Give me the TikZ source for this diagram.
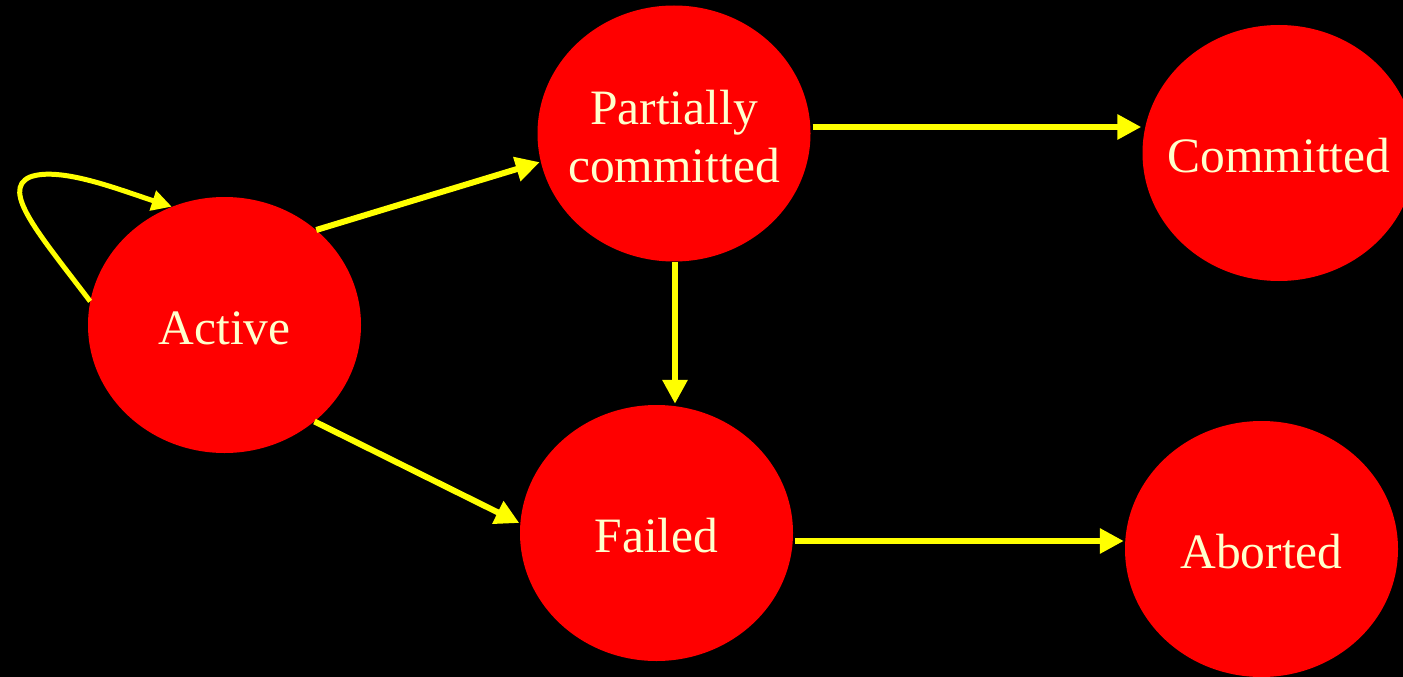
\documentclass[tikz,border=0pt]{standalone}
\usepackage{fontspec}
\setmainfont{Liberation Serif}
\usetikzlibrary{shapes.geometric,arrows.meta}
\definecolor{statered}{HTML}{FF0000}
\definecolor{cream}{HTML}{FFFFCC}
\definecolor{arrowyellow}{HTML}{FFFF00}
\begin{document}
\begin{tikzpicture}[x=1pt,y=-1pt,
  state/.style={ellipse,fill=statered,draw=none,minimum width=273pt,minimum height=256pt,inner sep=0pt,
    label={[text=cream,align=center,yshift=-3pt,font=\fontsize{49.5}{58}\selectfont]center:#1}},
  trans/.style={draw=arrowyellow,line width=6pt,-{Triangle[width=24pt,length=24pt]},shorten >=1pt}]
\fill[black] (0,0) rectangle (1403,677);
\useasboundingbox (0,0) rectangle (1403,677);
\node[state={Active}] (A) at (224.5,325) {};
\node[state={Partially\\committed}] (P) at (674,133.5) {};
\node[state={Committed}] (C) at (1279,153) {};
\node[state={Failed}] (F) at (656.5,533) {};
\node[state={Aborted}] (Ab) at (1261.5,549) {};
\draw[trans] (A.46) -- (P.192);
\draw[trans] (P.east |- 0,127) ++(2,0) -- (C.west |- 0,127);
\draw[trans] (P.south -| 675,0) -- (F.north -| 675,0);
\draw[trans] (A.-47) -- (F.176);
\draw[trans] (F.east |- 0,541) ++(2,0) -- (Ab.west |- 0,541);
\draw[draw=arrowyellow,line width=5pt,-{Triangle[width=20pt,length=20pt]}]
  (A.170) .. controls (40,235) and (0,190) .. (30,177) .. controls (60,166) and (120,190) .. (A.114);
\end{tikzpicture}
\end{document}
